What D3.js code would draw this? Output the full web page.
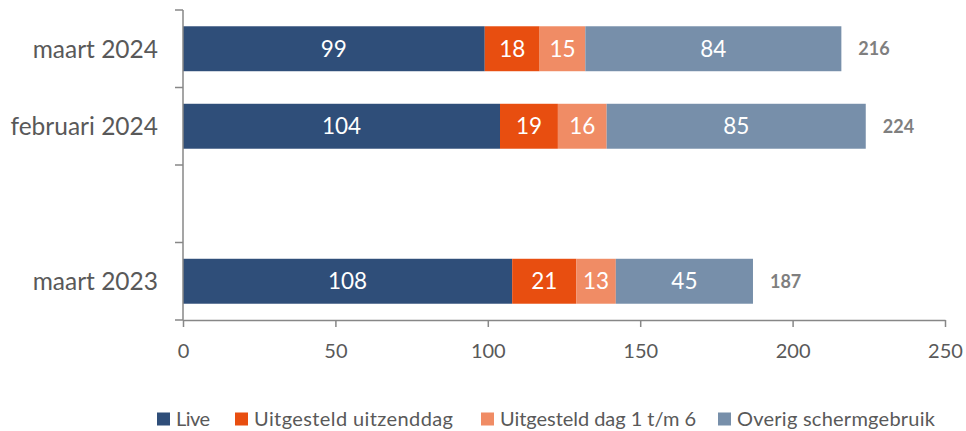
<!DOCTYPE html>
<html><head><meta charset="utf-8">
<script src="https://cdn.jsdelivr.net/npm/d3@7"></script>
<style>body{margin:0;background:#fff}svg{display:block}text{font-family:Lato,"Open Sans",sans-serif}</style>
</head><body><svg id="c" width="966" height="431"></svg>
<script>
const categories = ["maart 2024", "februari 2024", "", "maart 2023"];
const seriesNames = ["Live", "Uitgesteld uitzenddag", "Uitgesteld dag 1 t/m 6", "Overig schermgebruik"];
const live = [99, 104, null, 108];
const uitzenddag = [18, 19, null, 21];
const dag1t6 = [15, 16, null, 13];
const overig = [84, 85, null, 45];
const totals = [216, 224, null, 187];
const xTicks = [0, 50, 100, 150, 200, 250];
const colors = ["#2F4E79", "#E84E10", "#F08C65", "#778FAA"];

const svg = d3.select("#c");
const x = d3.scaleLinear().domain([0, 250]).range([183, 945]);
const y = d3.scaleBand().domain(d3.range(categories.length)).range([10, 320]).paddingInner(0.42).paddingOuter(0.21);

const series = [live, uitzenddag, dag1t6, overig];
const rows = categories.map((c, i) => {
  const r = {i};
  seriesNames.forEach((s, k) => r[s] = series[k][i] || 0);
  return r;
});
const stack = d3.stack().keys(seriesNames)(rows);

// bars
stack.forEach((layer, k) => {
  const g = svg.append("g");
  layer.forEach((d, i) => {
    const v = series[k][i];
    if (v == null) return;
    g.append("rect").attr("x", x(d[0])).attr("y", y(i)).attr("width", x(d[1]) - x(d[0])).attr("height", y.bandwidth())
      .attr("fill", colors[k]);
    g.append("text").attr("x", (x(d[0]) + x(d[1])) / 2).attr("y", y(i) + y.bandwidth() / 2).attr("dy", "0.36em")
      .attr("text-anchor", "middle").attr("fill", "#fff").attr("font-size", 22.5).text(v);
  });
});

// totals
totals.forEach((t, i) => {
  if (t == null) return;
  svg.append("text").attr("x", x(t) + 17).attr("y", y(i) + y.bandwidth() / 2).attr("dy", "0.36em")
    .attr("fill", "#7F7F7F").attr("font-weight", "bold").attr("font-size", 18).text(t);
});

// y axis
const yLine = svg.append("g").attr("stroke", "#878787").attr("stroke-width", 1.5);
yLine.append("line").attr("x1", 183).attr("x2", 183).attr("y1", 10).attr("y2", 320);
d3.range(categories.length + 1).forEach(j => {
  const yy = 10 + j * (310 / categories.length);
  yLine.append("line").attr("x1", 175).attr("x2", 183).attr("y1", yy).attr("y2", yy);
});
categories.forEach((c, i) => {
  svg.append("text").attr("x", 158).attr("y", y(i) + y.bandwidth() / 2).attr("dy", "0.36em")
    .attr("text-anchor", "end").attr("fill", "#595959").attr("font-size", 24.5).text(c);
});

// x axis
const xAxis = svg.append("g").attr("transform", "translate(0,320)")
  .call(d3.axisBottom(x).tickValues(xTicks).tickSize(7).tickSizeOuter(0).tickPadding(17));
xAxis.select(".domain").attr("stroke", "#878787").attr("stroke-width", 1.5);
xAxis.selectAll(".tick line").attr("stroke", "#878787").attr("stroke-width", 1.5);
xAxis.selectAll(".tick text").attr("fill", "#595959").attr("font-size", 20).attr("font-family", "Lato,'Open Sans',sans-serif");

// legend
const legX = [157, 235, 481, 718];
const legTextW = [34, 199, 196, 198];
seriesNames.forEach((s, k) => {
  const g = svg.append("g").attr("transform", `translate(${legX[k]},419)`);
  g.append("rect").attr("x", 0).attr("y", -6.5).attr("width", 13).attr("height", 13).attr("fill", colors[k]);
  g.append("text").attr("x", 19).attr("y", 0).attr("dy", "0.36em").attr("fill", "#595959").attr("font-size", 20)
    .attr("textLength", legTextW[k]).attr("lengthAdjust", "spacing").text(s);
});
</script></body></html>
